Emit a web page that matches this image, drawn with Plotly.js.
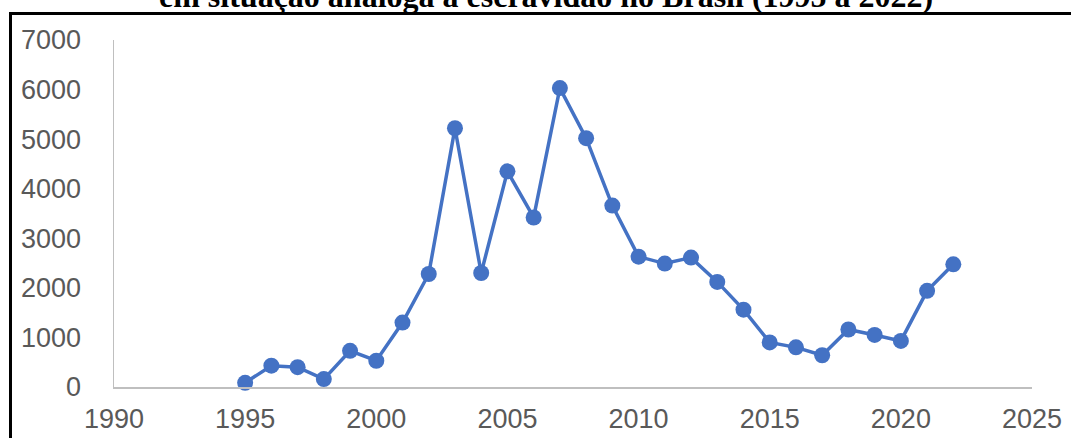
<!DOCTYPE html>
<html>
<head>
<meta charset="utf-8">
<script src="https://cdn.plot.ly/plotly-3.0.1.min.js"></script>
<style>
  html, body { margin: 0; padding: 0; background: #fff; overflow: hidden; }
  #frame { position: absolute; left: 9px; top: 12px; width: 2000px; height: 2000px;
           border-left: 3px solid #000; border-top: 3px solid #000; pointer-events: none; z-index: 5; }
  #chart { position: absolute; left: 0; top: 0; width: 1071px; height: 438px; }
</style>
</head>
<body>
<div id="chart"></div>
<div id="frame"></div>
<script>
const years = [1995,1996,1997,1998,1999,2000,2001,2002,2003,2004,2005,2006,2007,2008,2009,2010,2011,2012,2013,2014,2015,2016,2017,2018,2019,2020,2021,2022];
const rescued = [85,430,400,160,730,530,1300,2280,5220,2300,4350,3420,6030,5020,3660,2630,2490,2610,2120,1560,900,800,640,1160,1050,930,1940,2475];
const xTicks = [1990,1995,2000,2005,2010,2015,2020,2025];
const yTicks = [0,1000,2000,3000,4000,5000,6000,7000];
const titleText = "em situação análoga à escravidão no Brasil (1995 a 2022)";

const trace = {
  x: years, y: rescued, type: 'scatter', mode: 'lines+markers',
  line: { color: '#4472C4', width: 3.5 },
  marker: { color: '#4472C4', size: 16 },
  cliponaxis: false, hoverinfo: 'x+y'
};

const layout = {
  width: 1071, height: 438,
  margin: { l: 114, r: 39, t: 40, b: 51, pad: 0 },
  paper_bgcolor: '#fff', plot_bgcolor: '#fff',
  showlegend: false,
  annotations: [{
    text: '<b>' + titleText + '</b>', xref: 'paper', yref: 'paper', x: 0.4706, y: 1,
    xanchor: 'center', yanchor: 'middle', yshift: 44, showarrow: false,
    font: { family: 'Liberation Serif', size: 32, color: '#000' }
  }],
  xaxis: {
    range: [1990, 2025], tickvals: xTicks, ticktext: xTicks.map(String),
    showgrid: false, zeroline: false, showline: true, linecolor: '#bfbfbf', linewidth: 1.5,
    ticks: '', ticklabelstandoff: 7,
    tickfont: { family: 'Liberation Sans', size: 27, color: '#595959' }
  },
  yaxis: {
    range: [0, 7000], tickvals: yTicks, ticktext: yTicks.map(String),
    showgrid: false, zeroline: false, showline: true, linecolor: '#bfbfbf', linewidth: 1.5,
    ticks: '', ticklabelstandoff: 26,
    tickfont: { family: 'Liberation Sans', size: 27, color: '#595959' }
  }
};

Plotly.newPlot('chart', [trace], layout, { displayModeBar: false, staticPlot: true });
</script>
</body>
</html>
